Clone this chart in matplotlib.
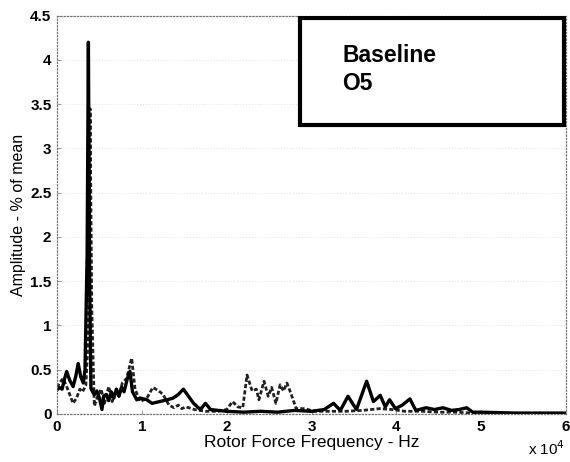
import numpy as np
import matplotlib.pyplot as plt
from matplotlib.patches import Rectangle

plt.rcParams['font.family'] = ['Liberation Sans', 'DejaVu Sans']

# Spectrum traces: frequency (Hz) and amplitude (% of mean)
freq_solid = [0, 300, 600, 900, 1140, 1500, 1900, 2200, 2500, 2800, 3100, 3300,
              3550, 3700, 3850, 4000, 4200, 4400, 4700, 5000, 5300, 5500,
              5800, 6100, 6400, 6700, 7000, 7300, 7600, 7900, 8300, 8600,
              8900, 9400, 9800, 10600, 11200, 12100, 13000, 13700, 14300,
              14900, 15500, 16100, 16900, 17500, 18100, 19000, 20000, 22000,
              24000, 26000, 28000, 30000, 31500, 32600, 33400, 34300, 35300,
              36500, 37300, 38100, 38700, 39200, 39900, 40700, 41600, 42300,
              43500, 44500, 45500, 46500, 47400, 48300, 49000, 50000, 52000,
              54000, 56000, 58000, 60000]
amp_solid = [0.27, 0.30, 0.28, 0.40, 0.48, 0.38, 0.31, 0.42, 0.57, 0.42, 0.35, 0.50,
             1.80, 4.20, 1.50, 0.29, 0.25, 0.22, 0.26, 0.18, 0.05, 0.20,
             0.22, 0.15, 0.25, 0.18, 0.28, 0.20, 0.30, 0.25, 0.40, 0.48,
             0.25, 0.16, 0.18, 0.16, 0.12, 0.14, 0.16, 0.18, 0.22,
             0.28, 0.20, 0.12, 0.05, 0.12, 0.05, 0.04, 0.03, 0.02,
             0.03, 0.02, 0.04, 0.03, 0.05, 0.12, 0.04, 0.20, 0.05,
             0.37, 0.14, 0.21, 0.08, 0.16, 0.06, 0.10, 0.17, 0.04,
             0.07, 0.05, 0.07, 0.04, 0.05, 0.07, 0.02, 0.02, 0.015,
             0.01, 0.01, 0.01, 0.01]

freq_dash = [0, 300, 700, 1100, 1500, 1900, 2300, 2700, 3000, 3400, 3700,
             3900, 4100, 4400, 4800, 5200, 5600, 6100, 6500, 7000, 7300,
             7700, 8200, 8800, 9200, 9800, 10600, 11300, 12000, 12500,
             13200, 13800, 14300, 14700, 15200, 16200, 17500, 19000, 20000,
             20700, 21300, 21900, 22400, 23000, 23500, 23800, 24400, 24900,
             25300, 25800, 26300, 26700, 27100, 27500, 28200, 29200, 30300,
             32000, 34000, 36000, 38000, 39500, 41000, 43000, 45000, 47000,
             49000, 51000, 55000, 60000]
amp_dash = [0.30, 0.35, 0.40, 0.32, 0.22, 0.12, 0.18, 0.28, 0.25, 0.32, 0.90,
            3.45, 1.20, 0.09, 0.20, 0.28, 0.12, 0.31, 0.14, 0.28, 0.20,
            0.35, 0.40, 0.63, 0.28, 0.14, 0.18, 0.30, 0.26, 0.22,
            0.10, 0.07, 0.10, 0.06, 0.08, 0.05, 0.03, 0.03, 0.05,
            0.14, 0.08, 0.07, 0.44, 0.26, 0.28, 0.16, 0.37, 0.20,
            0.30, 0.12, 0.33, 0.26, 0.35, 0.25, 0.06, 0.06, 0.03,
            0.03, 0.03, 0.04, 0.06, 0.05, 0.03, 0.03, 0.02, 0.02,
            0.01, 0.01, 0.005, 0.005]

x_ticks = [0, 10000, 20000, 30000, 40000, 50000, 60000]
x_labels = ['0', '1', '2', '3', '4', '5', '6']
y_ticks = [0, 0.5, 1, 1.5, 2, 2.5, 3, 3.5, 4, 4.5]
y_labels = ['0', '0.5', '1', '1.5', '2', '2.5', '3', '3.5', '4', '4.5']

fig = plt.figure(figsize=(5.7, 4.62), dpi=100)
ax = fig.add_axes([0.1, 0.104, 0.893, 0.862])

ax.plot(freq_dash, amp_dash, color='#222222', lw=2.0, linestyle=(0, (1.5, 0.8)))
ax.plot(freq_solid, amp_solid, color='black', lw=2.4)

ax.set_xlim(0, 60000)
ax.set_ylim(0, 4.5)
ax.set_xticks(x_ticks)
ax.set_xticklabels(x_labels)
ax.set_yticks(y_ticks)
ax.set_yticklabels(y_labels)
ax.tick_params(direction='in', length=3, width=0.6, color='#888888',
               labelsize=11, pad=4)
for lbl in ax.get_xticklabels() + ax.get_yticklabels():
    lbl.set_fontweight('bold')

for side in ax.spines.values():
    side.set_linestyle(':')
    side.set_color('#777777')
    side.set_linewidth(0.9)

ax.grid(axis='y', color='#e6e6e6', linestyle=':', linewidth=0.8)

ax.set_xlabel('Rotor Force Frequency - Hz', fontsize=12.5, labelpad=1)
ax.set_ylabel('Amplitude - % of mean', fontsize=11.5, labelpad=3)
fig.text(0.958, 0.008, r'x 10$^4$', fontsize=11, ha='center', va='bottom')

# Annotation box in the upper right corner
box = Rectangle((0.477, 0.725), 0.52, 0.27, transform=ax.transAxes,
                facecolor='white', edgecolor='black', lw=3, zorder=5)
ax.add_patch(box)
ax.text(0.56, 0.9, 'Baseline', transform=ax.transAxes, fontsize=16.5,
        fontweight='bold', va='center', zorder=6)
ax.text(0.56, 0.83, 'O5', transform=ax.transAxes, fontsize=16.5,
        fontweight='bold', va='center', zorder=6)

fig.savefig('out.png', dpi=100)
